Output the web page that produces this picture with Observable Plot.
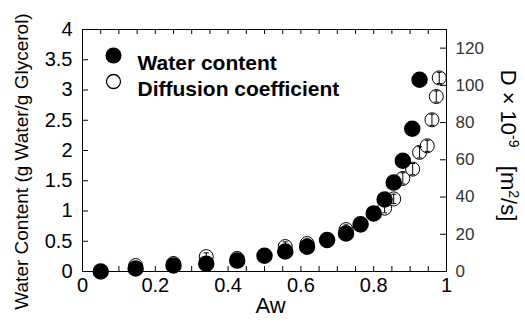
<!DOCTYPE html>
<html><head><meta charset="utf-8">
<script src="https://cdn.jsdelivr.net/npm/d3@7"></script>
<script src="https://cdn.jsdelivr.net/npm/@observablehq/plot@0.6"></script>
<style>body{margin:0;background:#fff} #chart{width:525px;height:322px}</style>
</head><body><div id="chart"></div>
<script>
// Water content (left axis, g water / g glycerol)
const waterAw = [0.05,0.146,0.25,0.34,0.425,0.50,0.557,0.617,0.672,0.724,0.764,0.80,0.83,0.855,0.88,0.906,0.926];
const waterContent = [0.0,0.05,0.10,0.13,0.18,0.26,0.33,0.41,0.52,0.63,0.78,0.96,1.19,1.47,1.83,2.36,3.17];
// Diffusion coefficient (right axis, D x 10^-9 m^2/s)
const diffAw = [0.146,0.25,0.34,0.425,0.50,0.557,0.617,0.672,0.724,0.764,0.80,0.83,0.855,0.88,0.907,0.926,0.947,0.96,0.972,0.98];
const diffD = [3.2,4.3,8,7,8.5,13.4,15,16.6,22.5,25,31,34,39,50,55,64,67.5,81.5,94,104];
const diffErr = [2,2,2,2,2,2.5,2.5,2.5,2.5,2.5,2.5,2.5,2.5,3,3,3,3,3,3,3];

const xTickLabels = [0,0.2,0.4,0.6,0.8,1];
const xMinorTicks = [0,0.05,0.1,0.15,0.2,0.25,0.3,0.35,0.4,0.45,0.5,0.55,0.6,0.65,0.7,0.75,0.8,0.85,0.9,0.95,1];
const yTickLabels = [0,0.5,1,1.5,2,2.5,3,3.5,4];
const dTickLabels = [0,20,40,60,80,100,120];
const legendLabels = ["Water content","Diffusion coefficient"];
const xTitle = "Aw";
const yTitle = "Water Content (g Water/g Glycerol)";
const dTitle = "D × 10-9   [m2/s]";

const Y_MAX = 4, D_MAX = 130;
const toY = d => d * Y_MAX / D_MAX;

const water = waterAw.map((a,i)=>({aw:a, wc:waterContent[i]}));
const diff = diffAw.map((a,i)=>({aw:a, y:toY(diffD[i]), lo:toY(diffD[i]-diffErr[i]), hi:toY(diffD[i]+diffErr[i])}));
const caps = diff.flatMap(d=>[{aw:d.aw, y:d.lo},{aw:d.aw, y:d.hi}]);
const hbar = {draw(ctx, size){ const r = Math.sqrt(size/Math.PI); ctx.moveTo(-r,0); ctx.lineTo(r,0); }};

const W=525,H=322,ML=82,MR=79,MT=29,MB=51;
const IW=W-ML-MR, IH=H-MT-MB;
const font = "Arial, 'Liberation Sans', sans-serif";

const chart = Plot.plot({
  width:W, height:H, marginLeft:ML, marginRight:MR, marginTop:MT, marginBottom:MB,
  x:{type:"linear", domain:[0,1]}, y:{type:"linear", domain:[0,Y_MAX]},
  style:{fontFamily:font, background:"white", color:"black", overflow:"visible"},
  marks:[
    Plot.tickX(xMinorTicks, {x:d=>d, insetTop:IH-5, stroke:"black"}),
    Plot.tickX(xMinorTicks, {x:d=>d, insetBottom:IH-5, stroke:"black"}),
    Plot.tickY(yTickLabels, {y:d=>d, insetRight:IW-6, stroke:"black"}),
    Plot.tickY(dTickLabels.map(toY), {y:d=>d, insetLeft:IW-6, stroke:"black"}),
    Plot.frame({stroke:"black", strokeWidth:1}),
    Plot.axisX(xTickLabels, {anchor:"bottom", tickSize:0, tickPadding:6, fontSize:20, tickFormat:d=>String(d), label:null}),
    Plot.axisY(yTickLabels, {anchor:"left", tickSize:0, tickPadding:10, fontSize:20, tickFormat:d=>String(d), label:null}),
    Plot.axisY(dTickLabels.map(toY), {anchor:"right", tickSize:0, tickPadding:9, fontSize:17, fill:"#333", tickFormat:d=>String(Math.round(d*D_MAX/Y_MAX)), label:null}),
    Plot.dot(diff, {x:"aw", y:"y", r:7, fill:"white", stroke:"black", strokeWidth:1}),
    Plot.ruleX(diff, {x:"aw", y1:"lo", y2:"hi", stroke:"black", strokeWidth:1}),
    Plot.dot(caps, {x:"aw", y:"y", symbol:hbar, r:2.5, stroke:"black", strokeWidth:1, fill:"none"}),
    Plot.dot(water, {x:"aw", y:"wc", r:7.5, fill:"black", stroke:"black"}),
    Plot.dot([legendLabels[0]], {frameAnchor:"top-left", dx:31, dy:26, r:8, fill:"black"}),
    Plot.dot([legendLabels[1]], {frameAnchor:"top-left", dx:31, dy:52, r:7, fill:"white", stroke:"black", strokeWidth:1.3}),
    Plot.text([legendLabels[0]], {frameAnchor:"top-left", dx:55, dy:26, text:d=>d, textAnchor:"start", fontSize:21, fontWeight:"bold"}),
    Plot.text([legendLabels[1]], {frameAnchor:"top-left", dx:55, dy:52, text:d=>d, textAnchor:"start", fontSize:21, fontWeight:"bold"}),
    Plot.text([xTitle], {frameAnchor:"bottom", dx:6, dy:41, text:d=>d, textAnchor:"middle", fontSize:22}),
    Plot.text([yTitle], {frameAnchor:"left", dx:-61, dy:11, rotate:-90, text:d=>d, textAnchor:"middle", fontSize:19}),
    Plot.text([dTitle], {frameAnchor:"right", dx:62, dy:-5, rotate:90, text:d=>d, textAnchor:"middle", fontSize:22})
  ]
});
document.getElementById("chart").appendChild(chart);
d3.select(chart).selectAll("text").each(function(){
  const t = d3.select(this);
  if (t.text() === dTitle) {
    t.text(null).attr("xml:space","preserve").style("white-space","pre");
    t.append("tspan").text("D × 10");
    t.append("tspan").attr("baseline-shift","super").attr("font-size","14").text("-9");
    t.append("tspan").text("   [m");
    t.append("tspan").attr("baseline-shift","super").attr("font-size","14").text("2");
    t.append("tspan").text("/s]");
  }
});
</script></body></html>
